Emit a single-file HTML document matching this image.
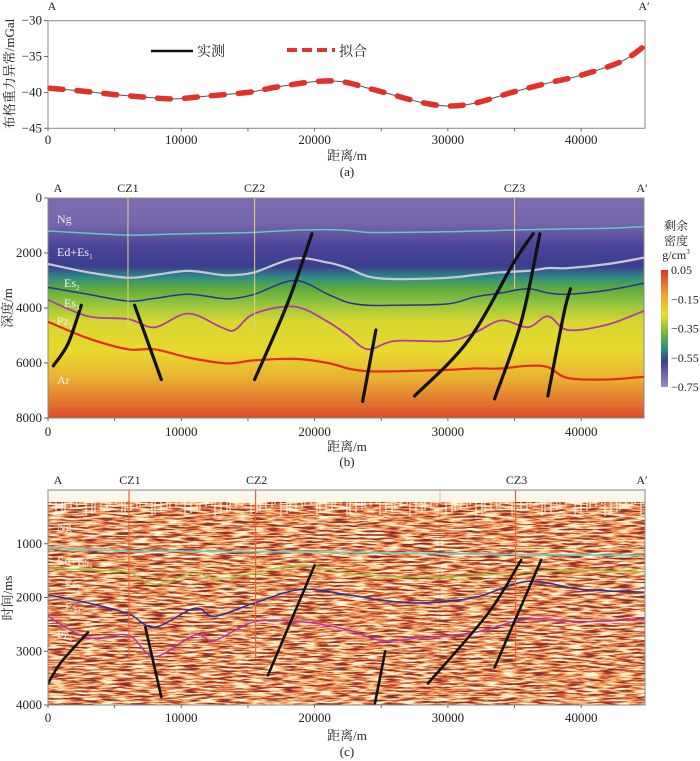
<!DOCTYPE html>
<html><head><meta charset="utf-8">
<style>
body{margin:0;background:#fff;}
svg{display:block;font-family:"Liberation Serif","Noto Serif CJK SC",serif;}
</style></head>
<body>
<svg id="fig" width="700" height="761" viewBox="0 0 700 761" xmlns="http://www.w3.org/2000/svg">
<defs>
<linearGradient id="dens" x1="0" y1="198" x2="0" y2="418" gradientUnits="userSpaceOnUse">
<stop offset="0" stop-color="#7d6db0"/>
<stop offset="0.12" stop-color="#7565aa"/>
<stop offset="0.22" stop-color="#4b4498"/>
<stop offset="0.31" stop-color="#3b3d8e"/>
<stop offset="0.36" stop-color="#2f8a86"/>
<stop offset="0.41" stop-color="#5cab3c"/>
<stop offset="0.48" stop-color="#93c43e"/>
<stop offset="0.56" stop-color="#d6d730"/>
<stop offset="0.7" stop-color="#e9d92e"/>
<stop offset="0.82" stop-color="#e8b131"/>
<stop offset="0.92" stop-color="#e37a30"/>
<stop offset="1" stop-color="#dc4a2a"/>
</linearGradient>
<linearGradient id="cbar" x1="0" y1="0" x2="0" y2="1">
<stop offset="0" stop-color="#e0302a"/>
<stop offset="0.2" stop-color="#eea030"/>
<stop offset="0.38" stop-color="#ecde30"/>
<stop offset="0.55" stop-color="#6cb43c"/>
<stop offset="0.68" stop-color="#2c8a7e"/>
<stop offset="0.78" stop-color="#3a3e94"/>
<stop offset="1" stop-color="#9a8cc4"/>
</linearGradient>
<filter id="seis" x="0" y="0" width="100%" height="100%">
<feTurbulence type="fractalNoise" baseFrequency="0.06 0.55" numOctaves="3" seed="7" result="n"/>
<feColorMatrix in="n" type="matrix" values="2.6 0 0 0 -0.8  2.6 0 0 0 -0.8  2.6 0 0 0 -0.8  0 0 0 0 1"/>
<feComponentTransfer>
<feFuncR type="table" tableValues="0.22 0.5 0.78 0.92 1 1"/>
<feFuncG type="table" tableValues="0.03 0.06 0.16 0.45 0.78 0.95"/>
<feFuncB type="table" tableValues="0.03 0.03 0.06 0.15 0.42 0.78"/>
</feComponentTransfer>
</filter>
<clipPath id="clipB"><rect x="48" y="198" width="596" height="220"/></clipPath>
<clipPath id="clipC"><rect x="48" y="490" width="597" height="215"/></clipPath>
</defs>
<g id="layer"></g>
</svg>
<script>
// ---------- data ----------
const gravX = [0,2500,5000,7500,9500,12000,15000,17000,20000,22000,24000,26000,28000,30000,32000,35000,37500,40000,43000,44700];
const gravV = [-39.4,-39.8,-40.3,-40.7,-40.9,-40.5,-40.0,-39.3,-38.5,-38.5,-39.4,-40.4,-41.4,-41.9,-41.5,-39.9,-38.7,-37.6,-35.7,-33.6];
const gravYTicks = [-30,-35,-40,-45];
const distTicks = [0,10000,20000,30000,40000];
const depthTicks = [0,2000,4000,6000,8000];
const timeTicks = [1000,2000,3000,4000];
const cbarLabels = ["0.05","\u22120.15","\u22120.35","\u22120.55","\u22120.75"];

const hbX = [0,3000,6000,8000,10500,13000,14000,15500,18500,21000,22500,24000,26000,30000,32000,34000,36000,37500,39000,42000,44700];
const hbCyan = [1200,1280,1350,1330,1300,1280,1270,1250,1170,1150,1180,1250,1250,1230,1200,1180,1150,1140,1120,1100,1040];
const hbGray = [2400,2700,2900,2800,2650,2800,2800,2700,2200,2350,2550,2850,2950,2900,2800,2700,2650,2550,2550,2400,2170];
const hbBlue = [3250,3500,3750,3650,3500,3650,3650,3500,3000,3500,3800,3900,3900,3850,3600,3450,3300,3450,3500,3350,3100];
const hbMag  = [3700,4300,4400,4700,4200,4700,4800,4200,3950,4500,5000,5500,5200,5200,4900,4450,4700,4300,4800,4600,4100];
const hbRed  = [4500,5100,5500,5500,5800,6000,6000,5900,5850,6000,6200,6300,6300,6250,6200,6200,6100,6150,6550,6600,6500];
const faultsB = [
 [[400,6100],[1500,5300],[2500,3900]],
 [[6500,3900],[8500,6600]],
 [[15500,6600],[18000,3800],[19800,1300]],
 [[23600,7400],[24600,4800]],
 [[27500,7200],[31500,5200],[35000,2300],[36400,1300]],
 [[33500,7300],[35500,4500],[36900,1300]],
 [[37500,7200],[38700,4200],[39200,3300]]
];
const wellX = [6000,15500,35000];
const wellNames = ["CZ1","CZ2","CZ3"];

const hcX = [0,3000,6000,8000,11000,12500,15500,19000,22500,25000,28000,32000,36000,40000,44700];
const hcCyan = [1070,1110,1130,1140,1140,1145,1150,1150,1160,1170,1180,1190,1200,1210,1220];
const hcGreen= [1450,1490,1530,1750,1550,1650,1550,1400,1550,1600,1620,1600,1520,1500,1520];
const hcBlue = [1950,2100,2300,2550,2200,2350,2100,1850,1950,2050,2100,2000,1700,1850,1900];
const hcMag  = [2350,2750,2700,3100,2700,2800,2450,2450,2600,2800,2750,2650,2400,2450,2400];
const faultsC = [
 [[0,3600],[1000,3200],[3000,2650]],
 [[7300,2550],[8500,3850]],
 [[16500,3450],[20000,1400]],
 [[24500,4000],[25300,3000]],
 [[28500,3600],[33000,2300],[35500,1300]],
 [[33500,3300],[37000,1300]]
];

// ---------- scales ----------
const X = m => 48 + m/1000*13.33;
const Ya = v => 20.7 + (-30 - v)*7.17;
const Yb = d => 198 + d/8000*220;
const Yc = t => 490 + t/4000*215;

const NS = "http://www.w3.org/2000/svg";
const L = document.getElementById('layer');
function mk(tag, attrs, parent){ const e=document.createElementNS(NS,tag); for(const k in attrs) e.setAttribute(k,attrs[k]); (parent||L).appendChild(e); return e; }
function txt(x,y,s,size,anchor,fill,parent){ const t=mk('text',{x:x,y:y,'font-size':size,'text-anchor':anchor||'middle',fill:fill||'#222'},parent); t.textContent=s; return t; }
function smooth(pts){
  let d='M'+pts[0][0].toFixed(1)+','+pts[0][1].toFixed(1);
  for(let i=0;i<pts.length-1;i++){
    const p0=pts[Math.max(0,i-1)],p1=pts[i],p2=pts[i+1],p3=pts[Math.min(pts.length-1,i+2)];
    const c1=[p1[0]+(p2[0]-p0[0])/6,p1[1]+(p2[1]-p0[1])/6], c2=[p2[0]-(p3[0]-p1[0])/6,p2[1]-(p3[1]-p1[1])/6];
    d+=' C'+c1[0].toFixed(1)+','+c1[1].toFixed(1)+' '+c2[0].toFixed(1)+','+c2[1].toFixed(1)+' '+p2[0].toFixed(1)+','+p2[1].toFixed(1);
  }
  return d;
}
function xAxis(yBase, labelY, title, titleY, cap, capY, name){
  const g=mk('g',{});
  
  
  for(let m=0;m<=44000;m+=5000){ mk('line',{x1:X(m),x2:X(m),y1:yBase,y2:yBase+3,stroke:'#666','stroke-width':1},g); }
  distTicks.forEach(m=>txt(X(m),labelY,String(m),13,'middle','#222',g));
  const t=txt(347,titleY,title,13,'middle','#222',g);
  
  
  const c=txt(347,capY,cap,13,'middle','#222',g);
  
  
}
function yTitle(x,y,s,name){ const t=mk('text',{x:0,y:0,'font-size':13,'text-anchor':'middle',fill:'#222',transform:'translate('+x+','+y+') rotate(-90)'}); t.textContent=s;
  
   }

// ---------- panel (a) ----------
txt(52,10,'A',12,'middle');
txt(644,10,'A\u2032',12,'middle');
const fa=mk('rect',{x:48,y:20.7,width:597,height:107.6,fill:'#fff',stroke:'#888','stroke-width':1});


gravYTicks.forEach(v=>{ mk('line',{x1:44,x2:48,y1:Ya(v),y2:Ya(v),stroke:'#666'}); txt(42,Ya(v)+4,'\u2212'+Math.abs(v),13,'end'); });
yTitle(14,74,'布格重力异常/mGal','gravity-y-axis-title');
xAxis(128.3,144,'距离/m',160,'(a)',176,'gravity');
const gpts=gravX.map((m,i)=>[X(m),Ya(gravV[i])]);
const meas=mk('path',{d:smooth(gpts),fill:'none',stroke:'#555','stroke-width':1});


const fit=mk('path',{d:smooth(gpts),fill:'none',stroke:'#e4302a','stroke-width':5.5,'stroke-dasharray':'13 14','stroke-dashoffset':'-2','stroke-linecap':'round'});


const lg1=mk('g',{});


mk('line',{x1:151,x2:193,y1:51,y2:51,stroke:'#111','stroke-width':2.5},lg1);
txt(197,56,'实测',14,'start','#222',lg1);
const lg2=mk('g',{});


mk('line',{x1:287,x2:335,y1:50,y2:50,stroke:'#e4302a','stroke-width':4,'stroke-dasharray':'10 5'},lg2);
txt(339,56,'拟合',14,'start','#222',lg2);

// ---------- panel (b) ----------
txt(58,192,'A',12,'middle');
txt(642,192,'A\u2032',12,'middle');
const fb=mk('rect',{x:48,y:198,width:596,height:220,fill:'url(#dens)',stroke:'#888'});


const gb=mk('g',{'clip-path':'url(#clipB)'});
const hbSets=[[hbCyan,'#63c9c0',1.5,'ng-base-horizon'],[hbGray,'#c8c8d0',2.2,'ed-es1-base-horizon'],[hbBlue,'#2d2e9a',1.5,'es2-base-horizon'],[hbMag,'#b23aa8',1.8,'es3-base-horizon'],[hbRed,'#e52a26',2.2,'pz-base-horizon']];
hbSets.forEach(s=>{ const p=mk('path',{d:smooth(hbX.map((m,i)=>[X(m),Yb(s[0][i])])),fill:'none',stroke:s[1],'stroke-width':s[2]},gb);
  
   });
wellX.forEach((m,i)=>{ const l=mk('line',{x1:X(m),x2:X(m),y1:198,y2:Yb(i==2?3300:4900),stroke:'#e8d27a','stroke-width':1},gb);
  
  
  txt(X(m),192,wellNames[i],12,'middle'); });
faultsB.forEach((f,i)=>{ const p=mk('path',{d:smooth(f.map(q=>[X(q[0]),Yb(q[1])])),fill:'none',stroke:'#111','stroke-width':3.2,'stroke-linecap':'round'},gb);
  
   });
[['Ng',57,223],['Ed+Es',57,256],['Es',64,287],['Es',64,307],['Pz',57,325],['Ar',57,384]].forEach((a,i)=>{
  const t=txt(a[1],a[2],a[0],12,'start','#f4f0f4',gb);
  if(i>=1&&i<=4){ const s=mk('tspan',{'font-size':7,dy:3},t); s.textContent=['1','2','3','1'][i-1]; }
});
depthTicks.forEach(d=>{ mk('line',{x1:44,x2:48,y1:Yb(d),y2:Yb(d),stroke:'#666'}); txt(42,Yb(d)+4,String(d),13,'end'); });
yTitle(12,308,'深度/m','depth-y-axis-title');
xAxis(418,436,'距离/m',451,'(b)',466,'density');
const cb=mk('rect',{x:661,y:270,width:7,height:117,fill:'url(#cbar)'});


cbarLabels.forEach((s,i)=>txt(671,270+i*29.25+4,s,12,'start'));
txt(676,230,'剩余',12,'middle');txt(676,245,'密度',12,'middle');
const gu=txt(676,259,'g/cm',12,'middle'); const su=mk('tspan',{'font-size':7,dy:-5},gu); su.textContent='3';

// ---------- panel (c) ----------
txt(58,484,'A',12,'middle');
txt(642,484,'A\u2032',12,'middle');
const fc=mk('rect',{x:48,y:490,width:597,height:215,fill:'#c87a3c',filter:'url(#seis)'});


const gc=mk('g',{'clip-path':'url(#clipC)'});
mk('rect',{x:48,y:490,width:597,height:12,fill:'#fbf6ec'},gc);
for(let k=0;k<120;k++){ const x=50+k*5+((k*7)%3); const h=4+((k*37)%13); mk('line',{x1:x,x2:x,y1:500,y2:500+h,stroke:'#fff8ee','stroke-width':1},gc); }
mk('line',{x1:440,x2:440,y1:490,y2:705,stroke:'#7a4a2a','stroke-width':0.6,opacity:0.5},gc);
const hcSets=[[hcCyan,'#5ed0d6',1.5,'ng-base-reflector'],[hcGreen,'#8ed036',1.3,'ed-es1-base-reflector'],[hcBlue,'#2a2e9e',1.5,'es2-base-reflector'],[hcMag,'#b234b0',1.5,'es3-base-reflector']];
hcSets.forEach(s=>{ const p=mk('path',{d:smooth(hcX.map((m,i)=>[X(m),Yc(s[0][i])])),fill:'none',stroke:s[1],'stroke-width':s[2]},gc);
  
   });
wellX.forEach((m,i)=>{ const l=mk('line',{x1:X(m)+1,x2:X(m)+1,y1:490,y2:Yc(3150),stroke:'#f06030','stroke-width':1.2},gc);
  
  
  txt(X(m)+2,484,wellNames[i],12,'middle'); });
faultsC.forEach((f,i)=>{ const p=mk('path',{d:smooth(f.map(q=>[X(q[0]),Yc(q[1])])),fill:'none',stroke:'#111','stroke-width':2.6,'stroke-linecap':'round'},gc);
  
   });
[['Ng',57,531],['Ed+Es',57,565],['Es',65,588],['Es',65,611],['Pz',57,638]].forEach((a,i)=>{
  const t=txt(a[1],a[2],a[0],12,'start','#f4eee0',gc);
  if(i>=1){ const s=mk('tspan',{'font-size':7,dy:3},t); s.textContent=['1','2','3','1'][i-1]; }
});
mk('rect',{x:48,y:490,width:597,height:215,fill:'none',stroke:'#888'});
timeTicks.forEach(t=>{ mk('line',{x1:44,x2:48,y1:Yc(t),y2:Yc(t),stroke:'#666'}); txt(42,Yc(t)+4,String(t),13,'end'); });
yTitle(12,598,'时间/ms','time-y-axis-title');
xAxis(705,722,'距离/m',740,'(c)',756,'seismic');
</script>
</body></html>
